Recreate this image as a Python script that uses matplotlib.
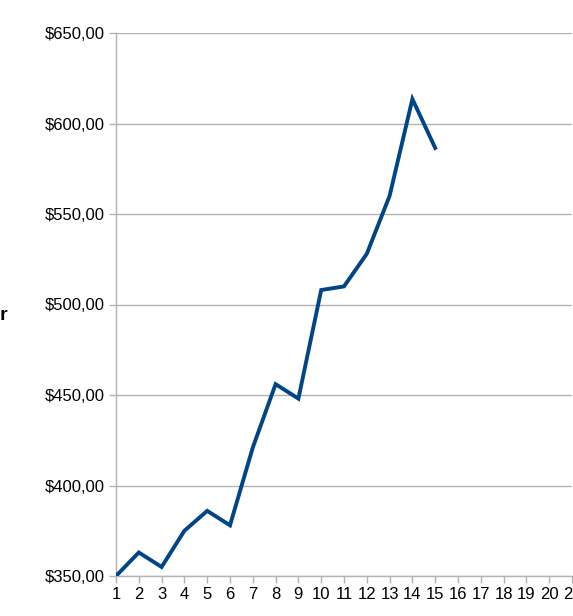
import matplotlib
matplotlib.use("Agg")
import matplotlib.pyplot as plt
from matplotlib.ticker import FuncFormatter

plt.rcParams['font.family'] = ['Liberation Sans', 'DejaVu Sans']

periods = list(range(1, 16))
values = [350, 363, 355, 375, 386, 378, 421, 456, 448, 508, 510, 528, 560, 613.5, 586.5]
x_ticks = list(range(1, 22))
y_ticks = [350, 400, 450, 500, 550, 600, 650]

W, H = 573, 616
fig = plt.figure(figsize=(W / 100, H / 100), dpi=100)
ax = fig.add_axes([116 / W, 40 / H, (572 - 116) / W, (576 - 33) / H])

ax.plot(periods, values, color='#004586', linewidth=2.8, solid_joinstyle='miter', zorder=3)

ax.set_xlim(1, 21)
ax.set_ylim(350, 650)
ax.set_xticks(x_ticks)
ax.set_yticks(y_ticks)
ax.yaxis.set_major_formatter(FuncFormatter(lambda v, p: "${:.2f}".format(v).replace('.', ',')))

ax.grid(axis='y', color='#b3b3b3', linewidth=1)
ax.set_axisbelow(True)
for s in ['top', 'right']:
    ax.spines[s].set_visible(False)
for s in ['left', 'bottom']:
    ax.spines[s].set_color('#b3b3b3')
    ax.spines[s].set_linewidth(1)

ax.tick_params(axis='both', colors='#b3b3b3', labelcolor='black', labelsize=12,
               length=5, width=1, direction='out', pad=3)

fig.text(0 / W, 1 - 316 / H, "r", fontsize=14, fontweight='bold', ha='left', va='center')

fig.savefig("out.png", dpi=100)
